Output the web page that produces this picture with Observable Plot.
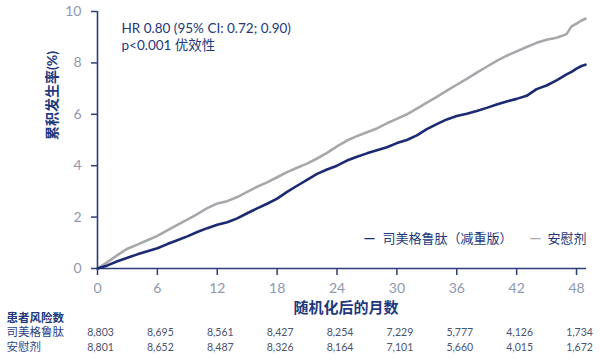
<!DOCTYPE html>
<html><head><meta charset="utf-8">
<script src="https://cdn.jsdelivr.net/npm/d3@7"></script>
<script src="https://cdn.jsdelivr.net/npm/@observablehq/plot@0.6"></script>
<style>
html,body{margin:0;padding:0;background:#fff;}
#chart svg{display:block;}
</style>
</head><body><div id="chart"></div>
<script>
const months = [0,1,2,3,4,5,6,7,8,9,10,11,12,13,14,15,16,17,18,19,20,21,22,23,24,25,26,27,28,29,30,31,32,33,34,35,36,37,38,39,40,41,42,43,44,45,46,47,47.5,48,48.5,48.9];
const semaglutide = [0,0.12,0.28,0.42,0.55,0.67,0.79,0.95,1.10,1.25,1.42,1.57,1.70,1.80,1.95,2.15,2.34,2.52,2.72,2.98,3.22,3.45,3.68,3.85,4.00,4.20,4.35,4.48,4.60,4.72,4.88,5.00,5.18,5.42,5.62,5.80,5.93,6.02,6.13,6.25,6.38,6.50,6.60,6.72,6.98,7.12,7.32,7.55,7.65,7.78,7.88,7.93];
const placebo = [0,0.25,0.52,0.77,0.93,1.10,1.27,1.48,1.70,1.90,2.12,2.35,2.53,2.62,2.78,2.98,3.18,3.35,3.55,3.75,3.92,4.08,4.28,4.50,4.75,4.98,5.15,5.30,5.45,5.65,5.82,6.00,6.22,6.45,6.68,6.92,7.15,7.38,7.62,7.85,8.08,8.28,8.45,8.62,8.78,8.90,8.98,9.12,9.42,9.53,9.65,9.72];

const xTicks = [0,6,12,18,24,30,36,42,48];
const yTicks = [0,2,4,6,8,10];
const riskSema = ["8,803","8,695","8,561","8,427","8,254","7,229","5,777","4,126","1,734"];
const riskPlacebo = ["8,801","8,652","8,487","8,326","8,164","7,101","5,660","4,015","1,672"];
const seriesNames = ["司美格鲁肽（减重版）","安慰剂"];
const riskHeader = "患者风险数";
const rowLabels = ["司美格鲁肽","安慰剂"];
const xLabel = "随机化后的月数";
const yLabel = "累积发生率(%)";
const annotation = "HR 0.80 (95% CI: 0.72; 0.90)\np<0.001 优效性";

const NAVY = "#1b2a72";
const AXIS = "#2c3d7c";
const TICKTXT = "#8f97b0";
const GRAY = "#a6a8ac";
const TITLE = "#22387c";
const NUM = "#4a5370";

const semaData = months.map((m,i)=>({m, v: semaglutide[i]}));
const placeboData = months.map((m,i)=>({m, v: placebo[i]}));
const risk1 = xTicks.map((t,i)=>({t, s: riskSema[i]}));
const risk2 = xTicks.map((t,i)=>({t, s: riskPlacebo[i]}));

const font = "Lato, 'Noto Sans CJK SC', sans-serif";

const plot = Plot.plot({
  width: 600, height: 363,
  marginLeft: 97, marginRight: 14, marginTop: 11, marginBottom: 95,
  style: {fontFamily: font, background: "#fff", overflow: "visible"},
  x: {domain: [0, 49]},
  y: {domain: [0, 10]},
  marks: [
    Plot.axisX({ticks: xTicks, tickSize: 7, tickPadding: 8, stroke: AXIS, strokeWidth: 1.5, fill: TICKTXT, fontSize: 14, label: null}),
    Plot.axisY({ticks: yTicks, tickSize: 6, tickPadding: 10, stroke: AXIS, strokeWidth: 1.5, fill: TICKTXT, fontSize: 14, label: null}),
    Plot.ruleX([0], {stroke: AXIS, strokeWidth: 1.6}),
    Plot.ruleY([0], {stroke: AXIS, strokeWidth: 1.6}),
    Plot.line(placeboData, {x: "m", y: "v", stroke: GRAY, strokeWidth: 2.6}),
    Plot.line(semaData, {x: "m", y: "v", stroke: NAVY, strokeWidth: 2.6}),
    // annotation
    Plot.text([annotation], {frameAnchor: "top-left", dx: 24, dy: 10, lineAnchor: "top", textAnchor: "start", fill: TITLE, fontSize: 13.5, lineHeight: 1.25}),
    // legend
    Plot.text(["—"], {frameAnchor: "bottom-right", dx: -211, dy: -26, fill: NAVY, fontSize: 15, fontWeight: "bold", textAnchor: "end"}),
    Plot.text([seriesNames[0]], {frameAnchor: "bottom-right", dx: -74, dy: -26, fill: TITLE, fontSize: 13, textAnchor: "end"}),
    Plot.text(["—"], {frameAnchor: "bottom-right", dx: -45, dy: -26, fill: GRAY, fontSize: 15, fontWeight: "bold", textAnchor: "end"}),
    Plot.text([seriesNames[1]], {frameAnchor: "bottom-right", dx: 0, dy: -26, fill: TITLE, fontSize: 13, textAnchor: "end"}),
    // axis titles
    Plot.text([xLabel], {frameAnchor: "bottom", dx: 4, dy: 44, fill: TITLE, fontSize: 15, fontWeight: "bold"}),
    Plot.text([yLabel], {frameAnchor: "left", dx: -45, dy: 0, rotate: -90, fill: TITLE, fontSize: 14, fontWeight: "bold"}),
    // risk table
    Plot.text([riskHeader], {frameAnchor: "bottom-left", dx: -91, dy: 53, textAnchor: "start", fill: TITLE, fontSize: 11.5, fontWeight: "bold"}),
    Plot.text([rowLabels[0]], {frameAnchor: "bottom-left", dx: -91, dy: 67, textAnchor: "start", fill: "#2b428a", fontSize: 11.5}),
    Plot.text([rowLabels[1]], {frameAnchor: "bottom-left", dx: -91, dy: 82, textAnchor: "start", fill: "#2b428a", fontSize: 11.5}),
    Plot.text(risk1, {x: "t", frameAnchor: "bottom", text: "s", dx: 3, dy: 67, fill: NUM, fontSize: 10.5}),
    Plot.text(risk2, {x: "t", frameAnchor: "bottom", text: "s", dx: 3, dy: 82, fill: NUM, fontSize: 10.5})
  ]
});
document.getElementById("chart").append(plot);
</script>
</body></html>
